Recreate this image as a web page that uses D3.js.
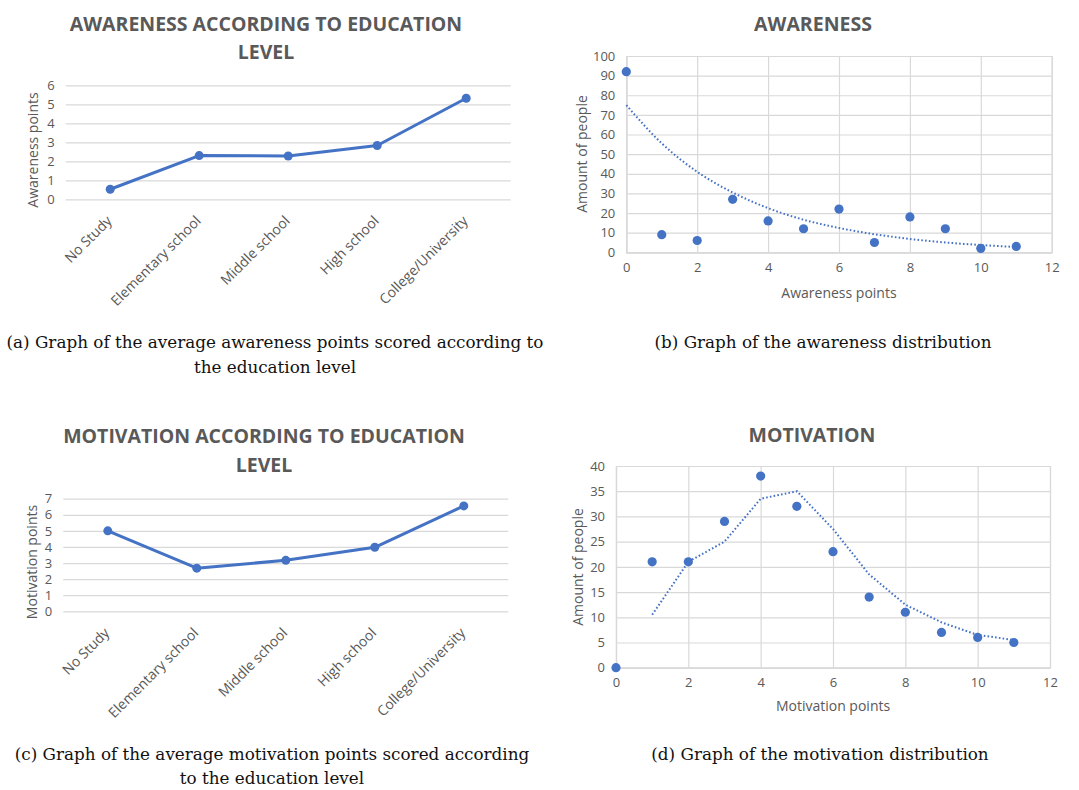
<!DOCTYPE html>
<html>
<head>
<meta charset="utf-8">
<script src="https://cdn.jsdelivr.net/npm/d3@7"></script>
<style>
  html, body { margin: 0; padding: 0; background: #ffffff; }
  svg { display: block; }
</style>
</head>
<body>
<svg id="chart" width="1079" height="790"></svg>
<script>
// ---------- DATA ----------
const educationLevels = ["No Study", "Elementary school", "Middle school", "High school", "College/University"];
const awarenessByEducation = [0.53, 2.3, 2.28, 2.83, 5.32];
const motivationByEducation = [5.0, 2.68, 3.17, 3.98, 6.55];

const pointsScale = [0, 1, 2, 3, 4, 5, 6, 7, 8, 9, 10, 11];
const awarenessCounts = [92, 9, 6, 27, 16, 12, 22, 5, 18, 12, 2, 3];
const awarenessTrend = [75, 55.5, 41, 30.5, 22.5, 16.6, 12.4, 9.2, 6.8, 5.0, 3.7, 2.7];
const motivationCounts = [0, 21, 21, 29, 38, 32, 23, 14, 11, 7, 6, 5];

const awarenessEduTicks = [0, 1, 2, 3, 4, 5, 6];
const motivationEduTicks = [0, 1, 2, 3, 4, 5, 6, 7];
const awarenessDistTicks = [0, 10, 20, 30, 40, 50, 60, 70, 80, 90, 100];
const motivationDistTicks = [0, 5, 10, 15, 20, 25, 30, 35, 40];
const distXTicks = [0, 2, 4, 6, 8, 10, 12];

// ---------- STYLE ----------
const BLUE = "#4472C4";
const GRID = "#d9d9d9";
const TXT = "#595959";
const SANS = "'Open Sans', sans-serif";
const SERIF = "'DejaVu Serif', serif";

const svg = d3.select("#chart");

function title(lines, cx, y0, gap) {
  lines.forEach((t, i) => {
    svg.append("text").attr("x", cx).attr("y", y0 + i * gap)
      .attr("text-anchor", "middle").attr("font-family", SANS)
      .attr("font-weight", 700).attr("font-size", 19.5).attr("fill", TXT).text(t);
  });
}

function caption(lines, cx, y0, gap) {
  lines.forEach((t, i) => {
    svg.append("text").attr("x", cx).attr("y", y0 + i * gap)
      .attr("text-anchor", "middle").attr("font-family", SERIF)
      .attr("font-size", 16.8).attr("fill", "#111").text(t);
  });
}

function vTitle(t, x, y) {
  svg.append("text").attr("transform", `translate(${x},${y}) rotate(-90)`)
    .attr("text-anchor", "middle").attr("dy", "0.35em")
    .attr("font-family", SANS).attr("font-size", 14).attr("fill", TXT).text(t);
}

// ---------- LINE CHART (category) ----------
function lineChart(cfg) {
  const x = d3.scaleBand().domain(educationLevels).range([cfg.x0, cfg.x1]);
  const y = d3.scaleLinear().domain([0, cfg.ymax]).range([cfg.y0, cfg.y1]);
  const g = svg.append("g");

  const ay = g.append("g").attr("transform", `translate(${cfg.x0},0)`)
    .call(d3.axisLeft(y).tickValues(cfg.ticks).tickFormat(d3.format("d"))
      .tickSize(-(cfg.x1 - cfg.x0)).tickPadding(11));
  ay.select(".domain").remove();
  ay.selectAll(".tick line").attr("stroke", GRID).attr("stroke-width", 1.2);
  ay.selectAll(".tick text").attr("font-family", SANS).attr("font-size", 13).attr("fill", TXT);

  const ax = g.append("g").attr("transform", `translate(0,${cfg.y0})`)
    .call(d3.axisBottom(x).tickSize(0).tickPadding(0));
  ax.select(".domain").remove();
  ax.selectAll(".tick text")
    .attr("font-family", SANS).attr("font-size", 14).attr("fill", TXT)
    .attr("text-anchor", "end")
    .attr("y", 0)
    .attr("dy", "0.35em")
    .attr("transform", "translate(-1,19) rotate(-45)");

  const pts = educationLevels.map((c, i) => [x(c) + x.bandwidth() / 2, y(cfg.values[i])]);
  g.append("path").datum(pts).attr("fill", "none").attr("stroke", BLUE)
    .attr("stroke-width", 3).attr("stroke-linejoin", "round")
    .attr("d", d3.line());
  g.selectAll("circle.m").data(pts).enter().append("circle")
    .attr("cx", d => d[0]).attr("cy", d => d[1]).attr("r", 4.5).attr("fill", BLUE);
}

// ---------- SCATTER CHART ----------
function scatterChart(cfg) {
  const x = d3.scaleLinear().domain([0, 12]).range([cfg.x0, cfg.x1]);
  const y = d3.scaleLinear().domain([0, cfg.ymax]).range([cfg.y0, cfg.y1]);
  const g = svg.append("g");

  const ay = g.append("g").attr("transform", `translate(${cfg.x0},0)`)
    .call(d3.axisLeft(y).tickValues(cfg.ticks).tickSize(-(cfg.x1 - cfg.x0)).tickPadding(11));
  ay.select(".domain").attr("stroke", GRID).attr("stroke-width", 1.2);
  ay.selectAll(".tick line").attr("stroke", GRID).attr("stroke-width", 1.2);
  ay.selectAll(".tick text").attr("font-family", SANS).attr("font-size", 13).attr("fill", TXT);

  const ax = g.append("g").attr("transform", `translate(0,${cfg.y0})`)
    .call(d3.axisBottom(x).tickValues(distXTicks).tickSize(-(cfg.y0 - cfg.y1)).tickPadding(10));
  ax.select(".domain").attr("stroke", GRID).attr("stroke-width", 1.2);
  ax.selectAll(".tick line").attr("stroke", GRID).attr("stroke-width", 1.2);
  ax.selectAll(".tick text").attr("font-family", SANS).attr("font-size", 13).attr("fill", TXT);

  svg.append("text").attr("x", cfg.xtX).attr("y", cfg.xtY).attr("text-anchor", "middle")
    .attr("font-family", SANS).attr("font-size", 14).attr("fill", TXT).text(cfg.xTitle);

  // trendline
  g.append("path").datum(cfg.trend).attr("fill", "none").attr("stroke", BLUE)
    .attr("stroke-width", 2).attr("stroke-dasharray", "1.6,2.2")
    .attr("d", d3.line().x(d => x(d[0])).y(d => y(d[1])).curve(cfg.curve));

  g.selectAll("circle.m").data(pointsScale).enter().append("circle")
    .attr("cx", d => x(d)).attr("cy", (d, i) => y(cfg.values[i])).attr("r", 4.6).attr("fill", BLUE);
}

// ---------- PANEL (a) ----------
title(["AWARENESS ACCORDING TO EDUCATION", "LEVEL"], 266, 31, 28);
lineChart({ x0: 65.7, x1: 510.7, y0: 199.3, y1: 85.3, ymax: 6, ticks: awarenessEduTicks, values: awarenessByEducation });
vTitle("Awareness points", 33, 150);
caption(["(a) Graph of the average awareness points scored according to", "the education level"], 275, 348, 25);

// ---------- PANEL (b) ----------
title(["AWARENESS"], 813, 31, 0);
scatterChart({
  x0: 626.3, x1: 1051.7, y0: 252.3, y1: 56, ymax: 100, ticks: awarenessDistTicks,
  values: awarenessCounts,
  trend: pointsScale.map((p, i) => [p, awarenessTrend[i]]),
  curve: d3.curveMonotoneX,
  xTitle: "Awareness points", xtX: 839, xtY: 298
});
vTitle("Amount of people", 582, 154);
caption(["(b) Graph of the awareness distribution"], 823, 348, 25);

// ---------- PANEL (c) ----------
title(["MOTIVATION ACCORDING TO EDUCATION", "LEVEL"], 264, 443, 29);
lineChart({ x0: 63.3, x1: 508.3, y0: 611.3, y1: 498.7, ymax: 7, ticks: motivationEduTicks, values: motivationByEducation });
vTitle("Motivation points", 32, 562);
caption(["(c) Graph of the average motivation points scored according", "to the education level"], 272, 760, 24);

// ---------- PANEL (d) ----------
// 2-period moving average trendline computed from the counts (Excel style)
const motivationTrend = pointsScale.slice(1).map(p => [p, (motivationCounts[p] + motivationCounts[p - 1]) / 2]);
title(["MOTIVATION"], 812, 442, 0);
scatterChart({
  x0: 616, x1: 1050, y0: 667.7, y1: 466, ymax: 40, ticks: motivationDistTicks,
  values: motivationCounts,
  trend: motivationTrend,
  curve: d3.curveLinear,
  xTitle: "Motivation points", xtX: 833, xtY: 711
});
vTitle("Amount of people", 578, 567);
caption(["(d) Graph of the motivation distribution"], 820, 760, 24);
</script>
</body>
</html>
